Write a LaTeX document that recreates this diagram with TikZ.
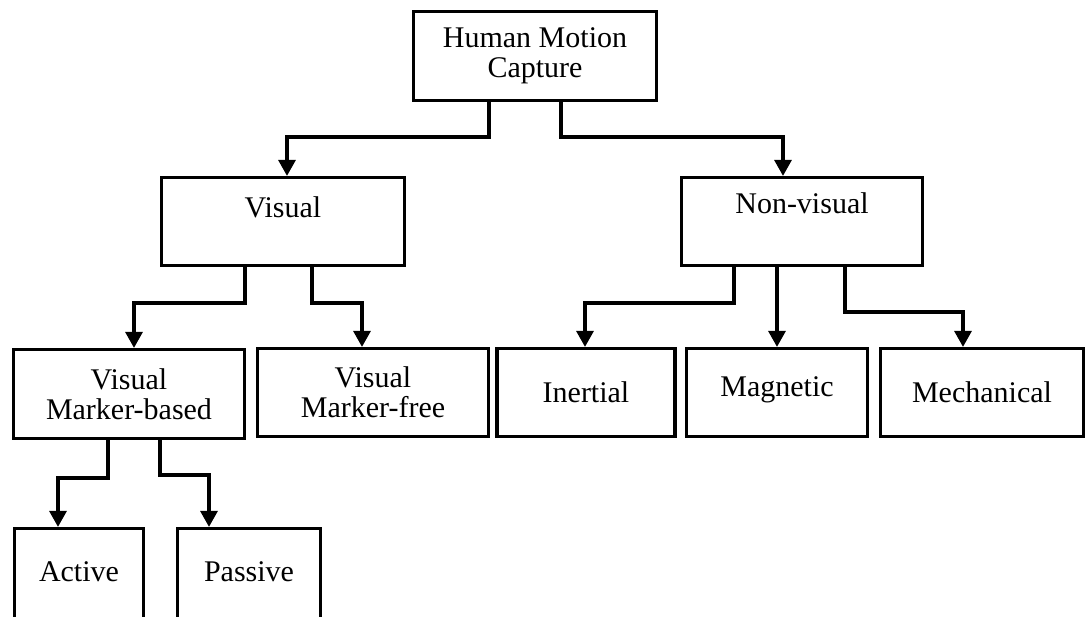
\documentclass[tikz,border=0pt]{standalone}
\usepackage{fontspec}
\setmainfont{Liberation Serif}
\usetikzlibrary{arrows.meta}
\begin{document}
\begin{tikzpicture}[x=1pt,y=-1pt,
  box/.style={draw=black,line width=3.2pt,inner sep=0pt,align=center,font=\fontsize{30}{30}\selectfont},
  txt/.style={inner sep=0pt,align=center,font=\fontsize{30}{30}\selectfont},
  arr/.style={draw=black,line width=3.2pt,-{Triangle[width=17pt,length=16pt]}}]
\clip (0,0) rectangle (1088,617);
\fill[white] (0,0) rectangle (1088,617);
% boxes
\node[box,minimum width=243,minimum height=89] (hmc) at (535,56) {Human Motion\\Capture};
\node[box,minimum width=243,minimum height=88] (vis) at (283,221.5) {};
\node[txt] (vist) at (283,207) {Visual};
\node[box,minimum width=241,minimum height=88] (nv) at (802,221.5) {};
\node[txt] (nvt) at (802,203) {Non-visual};
\node[box,minimum width=231,minimum height=89] (mb) at (129,394) {Visual\\Marker-based};
\node[box,minimum width=231,minimum height=88] (mf) at (373,392.5) {Visual\\Marker-free};
\node[box,minimum width=178,minimum height=88] (in) at (586,392.5) {Inertial};
\node[box,minimum width=181,minimum height=88] (mag) at (777,392.5) {};
\node[txt] (magt) at (777,390) {Magnetic};
\node[box,minimum width=203,minimum height=88] (mech) at (982,392.5) {Mechanical};
\node[box,minimum width=129,minimum height=100] (act) at (79,578.5) {};
\node[txt] (actt) at (79,572) {Active};
\node[box,minimum width=143,minimum height=100] (pas) at (249,578.5) {};
\node[txt] (past) at (249,572) {Passive};
% connectors
\draw[arr] ([xshift=-46pt]hmc.south) -- ++(0,35) -| ([xshift=4pt]vis.north);
\draw[arr] ([xshift=26pt]hmc.south) -- ++(0,35) -| ([xshift=-19pt]nv.north);
\draw[arr] ([xshift=-38pt]vis.south) -- ++(0,36) -| ([xshift=5pt]mb.north);
\draw[arr] ([xshift=29pt]vis.south) -- ++(0,36) -| ([xshift=-11pt]mf.north);
\draw[arr] ([xshift=-68pt]nv.south) -- ++(0,36) -| ([xshift=-1pt]in.north);
\draw[arr] ([xshift=-25pt]nv.south) -- (mag.north);
\draw[arr] ([xshift=43pt]nv.south) -- ++(0,45) -| ([xshift=-19pt]mech.north);
\draw[arr] ([xshift=-21pt]mb.south) -- ++(0,38) -| ([xshift=-21pt]act.north);
\draw[arr] ([xshift=31pt]mb.south) -- ++(0,35) -| ([xshift=-40pt]pas.north);
\end{tikzpicture}
\end{document}
